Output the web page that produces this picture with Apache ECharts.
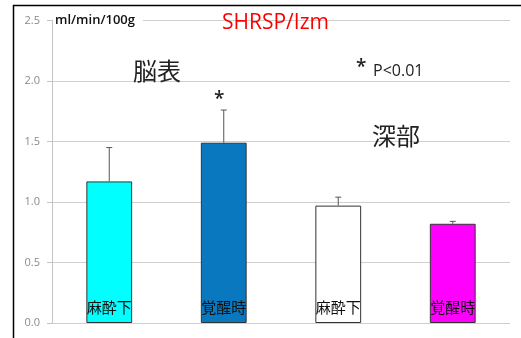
<!DOCTYPE html>
<html>
<head>
<meta charset="utf-8">
<script src="https://cdn.jsdelivr.net/npm/echarts@6/dist/echarts.min.js"></script>
<style>
  html, body { margin: 0; padding: 0; background: #fff; }
  #chart { width: 521px; height: 338px; }
</style>
</head>
<body>
<div id="chart"></div>
<script>
// Cerebral blood flow (ml/min/100g), SHRSP/Izm
const categories = ['麻酔下', '覚醒時', '麻酔下', '覚醒時'];
const meanFlow = [1.17, 1.49, 0.97, 0.82];
const sdFlow = [0.28, 0.27, 0.07, 0.02];
const barColors = ['#00ffff', '#0a78be', '#ffffff', '#ff00ff'];
const yTicks = [0, 0.5, 1.0, 1.5, 2.0, 2.5];

const chart = echarts.init(document.getElementById('chart'), null, { renderer: 'canvas' });

const cjk = '"Noto Sans CJK JP", sans-serif';
const latin = '"Open Sans", sans-serif';

const option = {
  backgroundColor: '#ffffff',
  animation: false,
  grid: { left: 52, right: 11, top: 20.5, bottom: 15 },
  xAxis: {
    type: 'category',
    data: categories,
    axisLine: { show: false },
    axisTick: { show: false },
    axisLabel: { show: false },
    splitLine: { show: false }
  },
  yAxis: {
    type: 'value',
    min: yTicks[0],
    max: yTicks[yTicks.length - 1],
    interval: 0.5,
    axisLine: { show: true, lineStyle: { color: '#c4c4c4', width: 1 } },
    axisTick: { show: true, length: 5, lineStyle: { color: '#c4c4c4' } },
    axisLabel: {
      margin: 12,
      color: '#8a8a8a',
      fontSize: 11,
      fontFamily: latin,
      formatter: v => v.toFixed(1)
    },
    splitLine: { show: true, lineStyle: { color: '#cfcfcf', width: 1 } }
  },
  series: [
    {
      type: 'bar',
      barWidth: '40%',
      data: meanFlow.map((v, i) => ({
        value: v,
        itemStyle: { color: barColors[i], borderColor: '#333333', borderWidth: 1 }
      })),
      label: {
        show: true,
        position: 'insideBottom',
        distance: 8,
        formatter: p => categories[p.dataIndex],
        color: '#111111',
        fontSize: 15,
        fontFamily: cjk
      },
      z: 2
    },
    {
      type: 'custom',
      data: meanFlow.map((v, i) => [i, v, v + sdFlow[i]]),
      renderItem: (params, api) => {
        const base = api.coord([api.value(0), api.value(1)]);
        const top = api.coord([api.value(0), api.value(2)]);
        const half = 3;
        const style = { stroke: '#555555', lineWidth: 1 };
        return {
          type: 'group',
          children: [
            { type: 'line', shape: { x1: base[0], y1: base[1], x2: top[0], y2: top[1] }, style },
            { type: 'line', shape: { x1: top[0] - half, y1: top[1], x2: top[0] + half, y2: top[1] }, style }
          ]
        };
      },
      z: 3
    }
  ],
  graphic: [
    // frame lines
    { type: 'line', shape: { x1: 13, y1: 5.5, x2: 521, y2: 5.5 }, style: { stroke: '#000', lineWidth: 1.5 }, z: 10 },
    { type: 'line', shape: { x1: 13.5, y1: 5, x2: 13.5, y2: 338 }, style: { stroke: '#000', lineWidth: 1.5 }, z: 10 },
    // unit label
    {
      type: 'text', left: 53, top: 12, z: 10,
      style: {
        text: 'ml/min/100g', fill: '#111', font: '600 13px ' + latin,
        backgroundColor: '#fff', padding: [2, 8, 7, 2]
      }
    },
    {
      type: 'text', left: 222, top: 13, z: 10,
      style: { text: 'SHRSP/Izm', fill: '#ff0000', font: '21px ' + latin }
    },
    {
      type: 'text', left: 133, top: 59, z: 10,
      style: { text: '脳表', fill: '#222', font: '24px ' + cjk }
    },
    {
      type: 'text', left: 372, top: 124, z: 10,
      style: { text: '深部', fill: '#222', font: '24px ' + cjk }
    },
    {
      type: 'text', left: 214, top: 90, z: 10,
      style: { text: '*', fill: '#222', font: '600 19px ' + latin }
    },
    {
      type: 'text', left: 356, top: 58, z: 10,
      style: { text: '*', fill: '#222', font: '600 19px ' + latin }
    },
    {
      type: 'text', left: 373, top: 63, z: 10,
      style: { text: 'P<0.01', fill: '#222', font: '16px ' + latin }
    }
  ]
};

chart.setOption(option);
</script>
</body>
</html>
